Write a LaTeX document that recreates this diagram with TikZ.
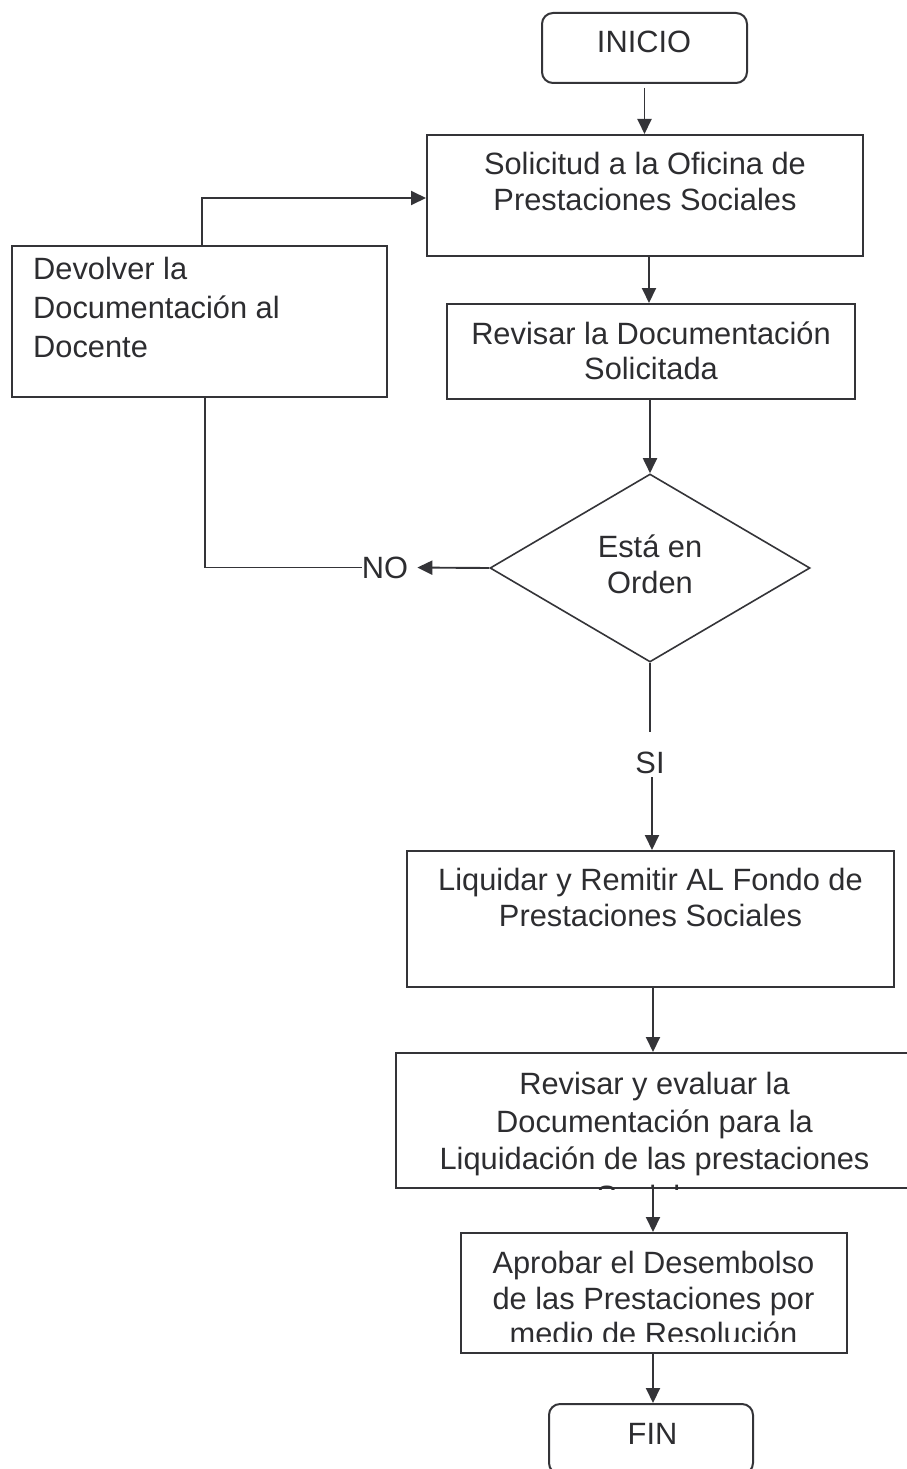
\documentclass[tikz,border=0pt]{standalone}
\usepackage{fontspec}
\setmainfont{Liberation Sans}
\usetikzlibrary{arrows.meta,shapes.geometric,calc}
\definecolor{ink}{RGB}{52,52,56}
\definecolor{txtc}{RGB}{45,45,48}
\begin{document}
\begin{tikzpicture}[x=1pt,y=-1pt,
  box/.style={draw=ink, line width=2pt, rectangle, inner sep=0pt},
  term/.style={box, rounded corners=11pt},
  cond/.style={draw=ink, line width=1.6pt, diamond, inner sep=0pt},
  txt/.style={text=txtc, inner sep=0pt, align=center, font=\fontsize{30.8}{37}\selectfont},
  link/.style={draw=ink, line width=1.9pt},
  arrow/.style={link, -{Triangle[length=15pt,width=14pt]}},
]
\clip (0,0) rectangle (907,1469);
\fill[white] (0,0) rectangle (907,1469);

% process boxes
\node[term, minimum width=205pt, minimum height=70pt] (inicio) at (644.5,48) {};
\node[box, minimum width=436pt, minimum height=121pt] (solicitud) at (645,195.5) {};
\node[box, minimum width=408pt, minimum height=95pt] (revisar) at (651,351.5) {};
\node[cond, minimum width=320pt, minimum height=188pt] (decision) at (650,568) {};
\node[box, minimum width=375pt, minimum height=151pt] (devolver) at (199.5,321.5) {};
\node[box, minimum width=487pt, minimum height=136pt] (liquidar) at (650.5,919) {};
\node[box, minimum width=564pt, minimum height=135pt] (evaluar) at (678,1120.5) {};
\node[box, minimum width=386pt, minimum height=120pt] (aprobar) at (654,1293) {};
\node[term, minimum width=204pt, minimum height=70pt] (fin) at (651,1439) {};

% texts
\node[txt, anchor=north] (inicioT) at (644,31) {INICIO};
\node[txt, anchor=north, font=\fontsize{30.8}{36}\selectfont] (solicitudT) at (645,152)
  {Solicitud a la Oficina de\\Prestaciones Sociales};
\node[txt, anchor=north, font=\fontsize{30.8}{35}\selectfont] (revisarT) at (651,322)
  {Revisar la Documentación\\Solicitada};
\node[txt, anchor=north west, align=left, font=\fontsize{30.8}{39}\selectfont] (devolverT) at (33,257)
  {Devolver la\\Documentación al\\Docente};
\node[txt, anchor=north, font=\fontsize{30.8}{36}\selectfont] (decisionT) at (650,535)
  {Está en\\Orden};
\node[txt] (no) at (385,567.5) {NO};
\node[txt] (si) at (650,763) {SI};
\node[txt, anchor=north, font=\fontsize{30.8}{36}\selectfont] (liquidarT) at (650.5,868)
  {Liquidar y Remitir AL Fondo de\\Prestaciones Sociales};
\begin{scope}
  \clip (evaluar.north west) rectangle (evaluar.south east);
  \node[txt, anchor=north, font=\fontsize{30.8}{37.5}\selectfont] (evaluarT) at (654.5,1072)
    {Revisar y evaluar la\\Documentación para la\\Liquidación de las prestaciones\\Sociales};
\end{scope}
\begin{scope}
  \clip (aprobar.north west) rectangle ($(aprobar.south east)+(0,-13)$);
  \node[txt, anchor=north, font=\fontsize{30.8}{35.5}\selectfont] (aprobarT) at (653.5,1251)
    {Aprobar el Desembolso\\de las Prestaciones por\\medio de Resolución};
\end{scope}
\node[txt, anchor=north] (finT) at (652.5,1423) {FIN};

% connectors
\coordinate (colB) at (653,0);
\coordinate (retorno) at (205,567.5);
\coordinate (subida) at (202,198);
\draw[arrow, shorten <=4pt] (inicio.south) -- (inicio.south |- solicitud.north);
\draw[arrow] ($(solicitud.south)+(4,0)$) -- ($(solicitud.south |- revisar.north)+(4,0)$);
\draw[arrow] (revisar.south -| decision.north) -- (decision.north);
\draw[arrow, shorten >=9pt] (decision.west) -- (no.east);
\draw[link] (no.west) -- (retorno) -- (retorno |- devolver.south);
\draw[arrow] (subida |- devolver.north) -- (subida) -- (subida -| solicitud.west);
\draw[link, shorten >=20pt] (decision.south) -- (si.north);
\draw[arrow, shorten <=3pt] ($(si.south)+(2,0)$) -- ($(si.south |- liquidar.north)+(2,0)$);
\draw[arrow] (colB |- liquidar.south) -- (colB |- evaluar.north);
\draw[arrow] (colB |- evaluar.south) -- (colB |- aprobar.north);
\draw[arrow] (colB |- aprobar.south) -- (colB |- fin.north);
\end{tikzpicture}
\end{document}
